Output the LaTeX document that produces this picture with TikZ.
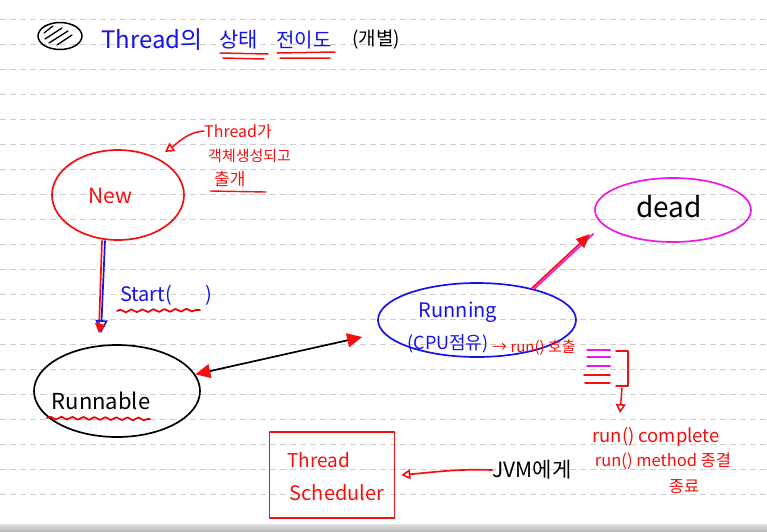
\documentclass[tikz,border=0pt]{standalone}
\usepackage{fontspec}
\setmainfont{Noto Sans CJK KR}
\usetikzlibrary{arrows.meta,decorations.pathmorphing,shapes.geometric}
\definecolor{pblue}{RGB}{20,20,235}
\definecolor{pred}{RGB}{245,15,15}
\definecolor{pmag}{RGB}{235,25,230}
\definecolor{rulegray}{RGB}{205,205,205}
\begin{document}
\begin{tikzpicture}[x=1pt,y=-1pt,
  pen/.style={line width=1.7pt,line cap=round,line join=round},
  oval/.style={ellipse,pen,inner sep=0pt},
  txt/.style={inner sep=0pt},
  wavy/.style={pen,red!95!black,decorate,decoration={snake,amplitude=1.4pt,segment length=11pt}},
  openhead/.style={-{Triangle[open,length=9pt,width=10pt,line width=1.6pt]}},
  fillhead/.style={{Triangle[color=pred,length=15pt,width=14pt]}-{Triangle[color=pred,length=15pt,width=14pt]}}
]
\useasboundingbox (0,0) rectangle (767,531);
\fill[white] (0,0) rectangle (767,531);
\foreach \y in {19.3,44.3,...,500} \draw[rulegray,line width=0.8pt,dash pattern=on 6pt off 4pt] (0,\y) -- (767,\y);
\shade[top color=gray!25,bottom color=gray!55] (0,524) rectangle (767,531);

% title
\node[oval,draw=black,line width=1.5pt,minimum width=44,minimum height=27] (icon) at (60,36) {};
\foreach \a/\b/\c/\d in {44/33/53/26, 45/39/62/28, 49/43/68/31, 57/45/72/35}
  \draw[pen,line width=1.3pt] (\a,\b) -- (\c,\d);
\node[txt,anchor=west,text=pblue,font=\fontsize{24}{26}\selectfont] (t1) at (101,40) {Thread의};
\node[txt,anchor=west,text=pblue,font=\fontsize{21}{23}\selectfont] (t2) at (219,40) {상태};
\node[txt,anchor=west,text=pblue,font=\fontsize{20}{22}\selectfont] (t3) at (276,40) {전이도};
\node[txt,anchor=west,text=black,font=\fontsize{19}{22}\selectfont] (t4) at (352,40) {(개별)};
\draw[pen,pred,line width=1.5pt] (220,53) -- (268,54) (223,58) -- (264,59);
\draw[pen,pred,line width=1.5pt] (277,53) -- (335,52) (280,58) -- (330,58);

% New
\node[oval,draw=pred,minimum width=132,minimum height=90] (new) at (118,195) {};
\node[txt,text=pred,font=\fontsize{21}{23}\selectfont] (newt) at (110,196) {New};
\node[txt,anchor=west,text=pred,font=\fontsize{16}{18}\selectfont] (ann1) at (204,131) {Thread가};
\node[txt,anchor=west,text=pred,font=\fontsize{15}{17}\selectfont] (ann2) at (208,156) {객체생성되고};
\node[txt,anchor=west,text=pred,font=\fontsize{17}{19}\selectfont] (ann3) at (214,179) {출개};
\draw[pen,pred,line width=1.4pt] (210,191) -- (266,192);
\coordinate (newtip) at (165,152);
\draw[pen,pred,line width=1.5pt,openhead] (ann1.west) to[out=185,in=35] (newtip);

% Runnable
\node[oval,draw=black,minimum width=166,minimum height=92] (run) at (117,391) {};
\node[txt,text=black,font=\fontsize{22}{24}\selectfont] (runt) at (101,401) {Runnable};
\draw[wavy] (47,418) -- (150,419);

% New -> Runnable
\draw[pen,pred] ([xshift=-16pt]new.south) -- ([xshift=-18pt,yshift=16pt]run.north);
\draw[pen,pblue,-{Triangle[open,length=13pt,width=12pt,line width=1.6pt]}] ([xshift=-13pt]new.south) -- ([xshift=-16pt,yshift=11pt]run.north);
\fill[pred] (95,323) -- (106,325) -- (99,333) -- cycle;
\node[txt,anchor=west,text=pblue,font=\fontsize{20}{22}\selectfont] (start) at (120,295) {Start(\hspace{34pt})};
\draw[wavy] (117,311) -- (200,310);

% Running
\node[oval,draw=pblue,minimum width=198,minimum height=74] (rng) at (477,320) {};
\node[txt,text=pblue,font=\fontsize{20}{22}\selectfont] (rngt) at (458,312) {Running};
\node[txt,text=pblue,font=\fontsize{18}{20}\selectfont] (cpu) at (448,344) {(CPU점유)};
\node[txt,anchor=west,text=pred,font=\fontsize{15}{17}\selectfont] (call) at (492,348) {→ run() 호출};

% Runnable <-> Running
\draw[pen,black,fillhead] (run.12) -- ([shift={(-15pt,-17pt)}]rng.west);

% dead
\node[oval,draw=pmag,minimum width=156,minimum height=64] (dead) at (673,210) {};
\node[txt,text=black,font=\fontsize{28}{30}\selectfont] (deadt) at (669,207) {dead};
\draw[pen,pmag] ([xshift=3pt]rng.30) -- ([shift={(-1pt,-24pt)}]dead.west);
\draw[pen,pred,-{Triangle[color=pred,length=14pt,width=12pt]}] (rng.30) -- ([shift={(-4pt,-24pt)}]dead.west);

% marks and bracket
\draw[pen,pmag,line width=2pt] (587,350) -- (610,350) (587,357) -- (610,357) (587,366) -- (610,366);
\draw[pen,pred,line width=1.8pt] (584,375) -- (610,375) (585,383) -- (610,383);
\draw[pen,pred,line width=1.8pt] (616,351) -- (628,351) -- (628,386) -- (616,386);
\coordinate (brb) at (622,388);
\coordinate (cmptip) at (620,413);
\draw[pen,pred,line width=1.5pt,openhead] (brb) -- (cmptip);
\node[txt,text=pred,font=\fontsize{18.5}{20}\selectfont] (comp) at (656,437) {run() complete};
\node[txt,text=pred,font=\fontsize{16.5}{18}\selectfont] (meth) at (663,461) {run() method 종결};
\node[txt,text=pred,font=\fontsize{16.5}{18}\selectfont] (end) at (684,487) {종료};

% Thread Scheduler
\node[pen,draw=pred,minimum width=125,minimum height=86,inner sep=0pt] (sched) at (332,475) {};
\node[txt,text=pred,font=\fontsize{19}{21}\selectfont] (sch1) at (319,460) {Thread};
\node[txt,text=pred,font=\fontsize{20}{22}\selectfont] (sch2) at (337,493) {Scheduler};
\node[txt,text=black,font=\fontsize{21}{23}\selectfont] (jvm) at (532,470) {JVM에게};
\draw[pen,pred,openhead] (jvm.west) to[out=178,in=5] ([xshift=6pt]sched.east);
\end{tikzpicture}
\end{document}
